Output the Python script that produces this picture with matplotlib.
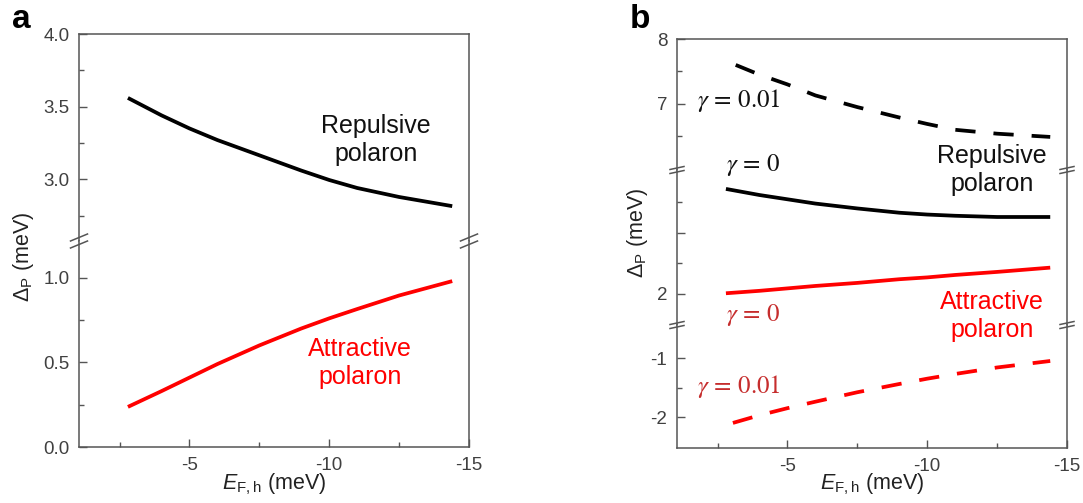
import matplotlib
matplotlib.use("Agg")
import matplotlib.pyplot as plt
from matplotlib.lines import Line2D

plt.rcParams["font.family"] = ["Liberation Sans", "DejaVu Sans"]
plt.rcParams["mathtext.fontset"] = "custom"
plt.rcParams["mathtext.rm"] = "Liberation Sans"
plt.rcParams["mathtext.it"] = "Liberation Sans:italic"
plt.rcParams["mathtext.bf"] = "Liberation Sans:bold"
plt.rcParams["axes.unicode_minus"] = False

# ---- data ------------------------------------------------------------------
# panel a
ef_a = [-2.8, -4, -5, -6, -7.5, -9, -10, -11, -12.5, -14.4]
rep_a = [3.56, 3.44, 3.35, 3.27, 3.165, 3.06, 2.995, 2.94, 2.878, 2.815]
att_a = [0.237, 0.33, 0.41, 0.49, 0.60, 0.70, 0.76, 0.815, 0.895, 0.98]

# panel b, gamma = 0
ef_b0 = [-2.8, -4, -5, -6, -7.5, -9, -10, -11, -12.5, -14.4]
rep_b0 = [3.72, 3.62, 3.55, 3.48, 3.40, 3.33, 3.30, 3.28, 3.26, 3.26]
att_b0 = [2.01, 2.05, 2.09, 2.13, 2.18, 2.24, 2.27, 2.31, 2.36, 2.43]

# panel b, gamma = 0.01
ef_rep_b1 = [-3.15, -4, -5, -6, -7.5, -9, -10, -11, -12.5, -14.4]
rep_b1 = [7.60, 7.45, 7.30, 7.13, 6.95, 6.79, 6.69, 6.60, 6.54, 6.49]
ef_att_b1 = [-3.05, -4, -5, -6, -7.5, -9, -10, -11, -12.5, -14.4]
att_b1 = [-2.10, -1.97, -1.85, -1.74, -1.58, -1.44, -1.35, -1.27, -1.16, -1.05]

x_major = [-5, -10, -15]
x_minor = [-2.5, -7.5, -12.5]

# ---- layout helpers (pixel based, figure is 1083x503 @ 100 dpi) -----------
W, H = 1083, 503
fig = plt.figure(figsize=(W / 100, H / 100), dpi=100)

SPINE = "#555555"
TICKC = "#404040"
RED = "#ff0000"
DARKRED = "#c62d2d"
TFS = 13.5


def fx(px):
    return px / W


def fy(py):
    return 1 - py / H


def add_axes(left, right, top, bottom):
    return fig.add_axes([fx(left), fy(bottom), fx(right - left), (bottom - top) / H])


def style(ax, first, last):
    for s in ax.spines.values():
        s.set_color(SPINE)
        s.set_linewidth(1.1)
    if not first:
        ax.spines["top"].set_visible(False)
    if not last:
        ax.spines["bottom"].set_visible(False)
    ax.set_xlim(-1.05, -15)
    ax.tick_params(which="both", direction="in", color=SPINE, labelcolor=TICKC,
                   labelsize=TFS, right=False, top=False, pad=7)
    ax.tick_params(which="major", length=6, width=1)
    ax.tick_params(which="minor", length=3.5, width=1)
    if last:
        ax.set_xticks(x_major)
        ax.set_xticklabels([str(v) for v in x_major])
        ax.set_xticks(x_minor, minor=True)
    else:
        ax.set_xticks([])
        ax.set_xticks([], minor=True)


def yt(ax, major, minor, labels):
    ax.set_yticks(major)
    ax.set_yticklabels(labels)
    ax.set_yticks(minor, minor=True)


def brk(xp, yp, w, rise, sep):
    for d in (-sep / 2, sep / 2):
        fig.add_artist(Line2D([fx(xp - w / 2), fx(xp + w / 2)],
                              [fy(yp + d + rise / 2), fy(yp + d - rise / 2)],
                              transform=fig.transFigure, color=SPINE, lw=1.1))


# ---- panel a ----------------------------------------------------------------
aL, aR = 79, 469
a_top = add_axes(aL, aR, 34, 241)
a_bot = add_axes(aL, aR, 241, 447)
style(a_top, True, False)
style(a_bot, False, True)
a_top.set_ylim(2.575, 4.0)
a_bot.set_ylim(0, 1.217)
yt(a_top, [3.0, 3.5, 4.0], [2.75, 3.25, 3.75], ["3.0", "3.5", "4.0"])
yt(a_bot, [0.0, 0.5, 1.0], [0.25, 0.75], ["0.0", "0.5", "1.0"])

a_top.plot(ef_a, rep_a, color="black", lw=2.7, solid_capstyle="butt")
a_bot.plot(ef_a, att_a, color=RED, lw=2.7, solid_capstyle="butt")

for xp in (aL, aR):
    brk(xp, 241, 17, 7, 7)

# ---- panel b ----------------------------------------------------------------
bL, bR = 677, 1067
b_top = add_axes(bL, bR, 39, 170)
b_mid = add_axes(bL, bR, 170, 325)
b_bot = add_axes(bL, bR, 325, 448)
style(b_top, True, False)
style(b_mid, False, False)
style(b_bot, False, True)
b_top.set_ylim(5.98, 8.0)
b_mid.set_ylim(1.49, 4.03)
b_bot.set_ylim(-2.525, -0.44)
yt(b_top, [7, 8], [6.5, 7.5], ["7", "8"])
yt(b_mid, [2, 3], [2.5, 3.5], ["2", ""])
yt(b_bot, [-2, -1], [-1.5], ["-2", "-1"])

dash = (5.4, 4.8)
b_top.plot(ef_rep_b1, rep_b1, color="black", lw=2.7, dashes=dash)
b_mid.plot(ef_b0, rep_b0, color="black", lw=2.7, solid_capstyle="butt")
b_mid.plot(ef_b0, att_b0, color=RED, lw=2.7, solid_capstyle="butt")
b_bot.plot(ef_att_b1, att_b1, color=RED, lw=2.7, dashes=dash)

for xp in (bL, bR):
    brk(xp, 170, 14, 3, 4)
    brk(xp, 325, 14, 3, 4)

# ---- text -------------------------------------------------------------------
def label(px, py, s, **kw):
    fig.text(fx(px), fy(py), s, ha="center", va="center", **kw)


label(21, 20, "a", fontsize=24, fontweight="bold")
label(640, 20, "b", fontsize=24, fontweight="bold")

ylab = r"$\Delta_{\mathrm{P}}$ (meV)"
xlab = r"$E_{\mathrm{F,h}}$ (meV)"
label(23, 257, ylab, fontsize=15.5, rotation=90, color="#222222")
label(638, 233, ylab, fontsize=15.5, rotation=90, color="#222222")
label((aL + aR) / 2, 484, xlab, fontsize=15.5, color="#222222")
label((bL + bR) / 2, 484, xlab, fontsize=15.5, color="#222222")

label(376, 140, "Repulsive\npolaron", fontsize=18, color="#111111")
label(360, 363, "Attractive\npolaron", fontsize=18, color=RED)
label(992, 170, "Repulsive\npolaron", fontsize=18, color="#111111")
label(992, 316, "Attractive\npolaron", fontsize=18, color=RED)

label(739, 100, r"$\gamma\,=\,0.01$", fontsize=18, color="#111111", math_fontfamily="stix")
label(753, 165, r"$\gamma\,=\,0$", fontsize=18, color="#111111", math_fontfamily="stix")
label(753, 315, r"$\gamma\,=\,0$", fontsize=18, color=DARKRED, math_fontfamily="stix")
label(739, 387, r"$\gamma\,=\,0.01$", fontsize=18, color=DARKRED, math_fontfamily="stix")

fig.savefig("out.png", dpi=100)
